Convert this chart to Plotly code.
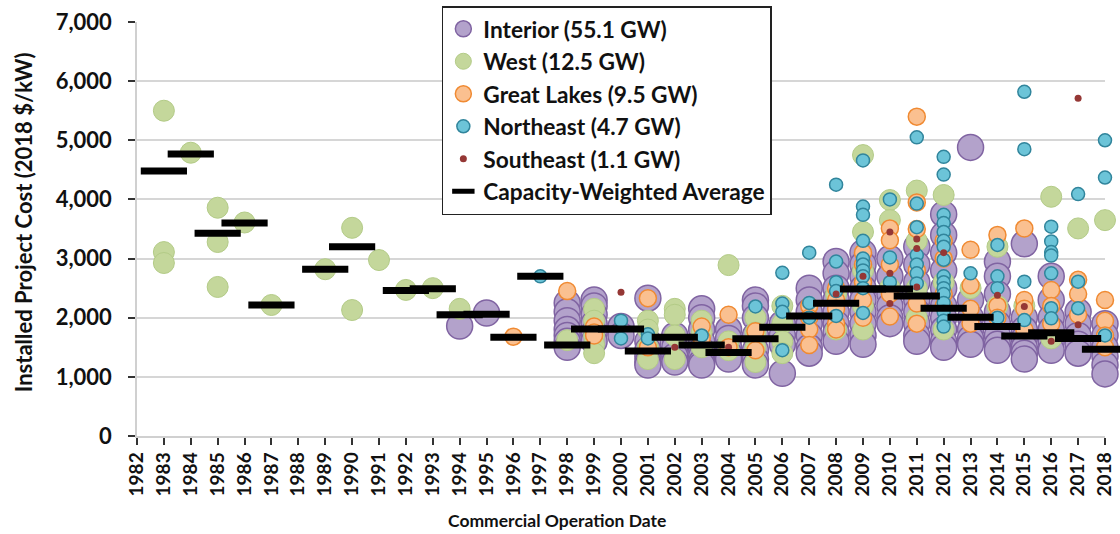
import plotly.graph_objects as go

# ---- data ----
interior_pts = {
    1994: [1860], 1995: [2080],
    1998: [2250, 2100, 1950, 1800, 1700, 1600, 1500],
    1999: [2300, 2200, 2050, 1900, 1750, 1600],
    2000: [1850, 1700],
    2001: [2330, 1600, 1450, 1350, 1250, 1200],
    2002: [1700, 1500, 1350, 1250],
    2003: [2150, 2000, 1800, 1600, 1450, 1350, 1250, 1200],
    2004: [1800, 1650, 1500, 1400, 1300],
    2005: [2300, 2200, 2000, 1700, 1450, 1300, 1200],
    2006: [1900, 1700, 1550, 1060],
    2007: [2500, 2300, 2100, 1900, 1700, 1500, 1400],
    2008: [2950, 2750, 2500, 2300, 2100, 1900, 1750, 1600],
    2009: [3100, 2900, 2700, 2500, 2300, 2100, 1900, 1700, 1550],
    2010: [3000, 2700, 2400, 2200, 2000, 1900],
    2011: [3200, 2900, 2600, 2300, 2100, 1900, 1700, 1600],
    2012: [3750, 3400, 3100, 2800, 2500, 2200, 2000, 1800, 1600, 1500],
    2013: [4880, 2300, 2000, 1800, 1650, 1550],
    2014: [2950, 2700, 2400, 2100, 1900, 1700, 1550, 1450],
    2015: [3250, 2000, 1800, 1650, 1500, 1400, 1300],
    2016: [2700, 2300, 2000, 1800, 1600, 1450],
    2017: [2100, 1900, 1700, 1550, 1400],
    2018: [1900, 1700, 1500, 1350, 1200, 1050],
}
west_pts = {
    1983: [5500, 3110, 2925], 1984: [4790], 1985: [3860, 3280, 2520],
    1986: [3610], 1987: [2215], 1989: [2820], 1990: [3520, 2130],
    1991: [2975], 1992: [2470], 1993: [2500], 1994: [2150],
    1998: [1620],
    1999: [2150, 1950, 1700, 1550, 1400],
    2001: [1950, 1800, 1500, 1300],
    2002: [2150, 2050, 1700, 1300],
    2003: [1950, 1750, 1500],
    2004: [2890, 1600, 1450],
    2005: [2000, 1750, 1500, 1250],
    2006: [2200, 1900, 1600, 1400],
    2008: [2400, 1800],
    2009: [4750, 3450, 2800, 2200, 1800],
    2010: [3990, 3650, 2500],
    2011: [4150, 3300, 2500, 2000],
    2012: [4075, 2600, 1800],
    2013: [2500], 2014: [3200, 2200], 2015: [2200],
    2016: [4045, 1650], 2017: [3510], 2018: [3650],
}
great_lakes_pts = {
    1996: [1680], 1998: [2450], 1999: [1850, 1750, 1700],
    2001: [2330, 1500], 2003: [1850, 1650], 2004: [2050, 1500],
    2005: [1770, 1450],
    2007: [2200, 2000, 1800, 1540],
    2008: [2500, 2300, 2150, 1900, 1800],
    2009: [3100, 2900, 2600, 2300, 2000],
    2010: [3510, 3310, 2900, 2400, 2020],
    2011: [5400, 3950, 3500, 2800, 2240, 1900],
    2012: [3300, 3000, 2400, 2200],
    2013: [3150, 2550, 2150, 1900],
    2014: [3400, 2200, 2000],
    2015: [3510, 2300, 2150, 1800],
    2016: [2470, 2200, 1900],
    2017: [2640, 2400, 2050],
    2018: [2300, 1950, 1700, 1500],
}
northeast_pts = {
    1997: [2700], 2000: [1950, 1650], 2001: [1720, 1650], 2003: [1700],
    2005: [2190],
    2006: [2760, 2240, 2100, 1450],
    2007: [3100, 2250, 2000],
    2008: [4250, 2950, 2600, 2450, 2030],
    2009: [4660, 3880, 3740, 3300, 3000, 2900, 2800, 2700, 2500, 2080],
    2010: [4000, 3020, 2600],
    2011: [5050, 3930, 3530, 3060, 2900, 2750, 2580],
    2012: [4720, 4420, 3740, 3600, 3450, 3300, 3200, 2980, 2700, 2600,
           2500, 2400, 2250, 2100, 1950, 1850],
    2013: [2750],
    2014: [3230, 2700, 2500, 2000],
    2015: [5820, 4850, 2610, 1960],
    2016: [3540, 3290, 3110, 3050, 2750, 2160, 1990],
    2017: [4090, 2610, 2160],
    2018: [5000, 4370, 1700],
}
southeast_pts = {
    2000: [2430], 2002: [1500], 2004: [1500], 2008: [2400],
    2009: [2700], 2010: [3450, 2750, 2240], 2011: [3330, 3170, 2520],
    2012: [3100], 2014: [2380], 2015: [2190], 2016: [1600],
    2017: [5710, 1880],
}
avg_years = [1983, 1984, 1985, 1986, 1987, 1989, 1990, 1992, 1993, 1994,
             1995, 1996, 1997, 1998, 1999, 2000, 2001, 2002, 2003, 2004,
             2005, 2006, 2007, 2008, 2009, 2010, 2011, 2012, 2013, 2014,
             2015, 2016, 2017, 2018]
avg_costs = [4480, 4770, 3430, 3600, 2215, 2820, 3200, 2460, 2490, 2050,
             2060, 1670, 2700, 1540, 1810, 1810, 1437, 1670, 1540, 1410,
             1645, 1840, 2030, 2243, 2485, 2485, 2367, 2158, 2007, 1850,
             1690, 1747, 1650, 1465]

series = [
    ("Interior (55.1 GW)", interior_pts, 26, "#B3A2CB", "#8064A2", 1.5),
    ("West (12.5 GW)", west_pts, 21, "#C4D79B", "#B3CB87", 1),
    ("Great Lakes (9.5 GW)", great_lakes_pts, 17, "#FAC090", "#F08A32", 1.5),
    ("Northeast (4.7 GW)", northeast_pts, 13, "#6CC4D8", "#31859C", 1.5),
    ("Southeast (1.1 GW)", southeast_pts, 7, "#953735", "#953735", 0),
]


def flatten(pts):
    xs, ys = [], []
    for yr, vals in pts.items():
        for v in vals:
            xs.append(yr)
            ys.append(v)
    return xs, ys


fig = go.Figure()
for name, pts, size, fill, edge, lw in series:
    xs, ys = flatten(pts)
    fig.add_trace(go.Scatter(
        x=xs, y=ys, mode="markers", name=name, legendgroup=name,
        cliponaxis=False,
        marker=dict(size=size, color=fill, line=dict(color=edge, width=lw)),
    ))

fig.add_trace(go.Scatter(
    x=avg_years, y=avg_costs, mode="markers",
    name="Capacity-Weighted Average", legendgroup="avg", cliponaxis=False,
    marker=dict(symbol="line-ew", size=33, color="black",
                line=dict(color="black", width=7)),
))

font_family = "Lato, 'Open Sans', Arial, sans-serif"
L, R, T, B = 137, 5, 22, 98
PW, PH = 1120 - L - R, 534 - T - B

fig.update_layout(
    width=1120, height=534,
    margin=dict(l=L, r=R, t=T, b=B),
    paper_bgcolor="white", plot_bgcolor="white",
    font=dict(family=font_family, color="#111111"),
    showlegend=True,
    legend=dict(
        x=(445 - L) / PW, y=(534 - B - 6) / PH, xanchor="left", yanchor="top",
        bgcolor="white", bordercolor="#222222", borderwidth=1.5,
        font=dict(size=22.7, family=font_family, color="#111111", weight="bold"),
        traceorder="grouped", tracegroupgap=0,
        itemsizing="trace",
    ),
    xaxis=dict(
        range=[1982, 2018], tickmode="linear", tick0=1982, dtick=1,
        tickangle=-90, showgrid=False, zeroline=False,
        showline=True, linecolor="#D0D0D0", linewidth=1.5,
        ticks="outside", ticklen=7, tickcolor="#333333", tickwidth=1.5,
        ticklabeloverflow="allow",
        tickfont=dict(size=19, family=font_family, color="#111111", weight="bold"),
    ),
    yaxis=dict(
        range=[0, 7000], tickmode="linear", tick0=0, dtick=1000,
        tickformat=",", showgrid=True, gridcolor="#D6D6D6", gridwidth=1.5,
        zeroline=False, showline=True, linecolor="#D0D0D0", linewidth=1.5,
        ticks="outside", ticklen=7, tickcolor="#333333", tickwidth=1.5,
        ticklabelstandoff=12,
        tickfont=dict(size=22, family=font_family, color="#111111", weight="bold"),
    ),
    annotations=[
        dict(text="Installed Project Cost (2018 $/kW)", xref="paper", yref="paper",
             x=-(L - 22) / PW, y=(436 - 222) / PH, textangle=-90, showarrow=False,
             xanchor="center", yanchor="middle",
             font=dict(size=22, family=font_family, color="#111111", weight="bold")),
        dict(text="Commercial Operation Date", xref="paper", yref="paper",
             x=(561 - L) / PW, y=-(520 - 436) / PH, showarrow=False,
             xanchor="center", yanchor="middle",
             font=dict(size=17.5, family=font_family, color="#111111", weight="bold")),
    ],
)

fig.write_html(
    "out.html",
    config={"displayModeBar": False},
    post_script="document.body.style.margin='0';document.body.style.overflow='hidden';",
)
